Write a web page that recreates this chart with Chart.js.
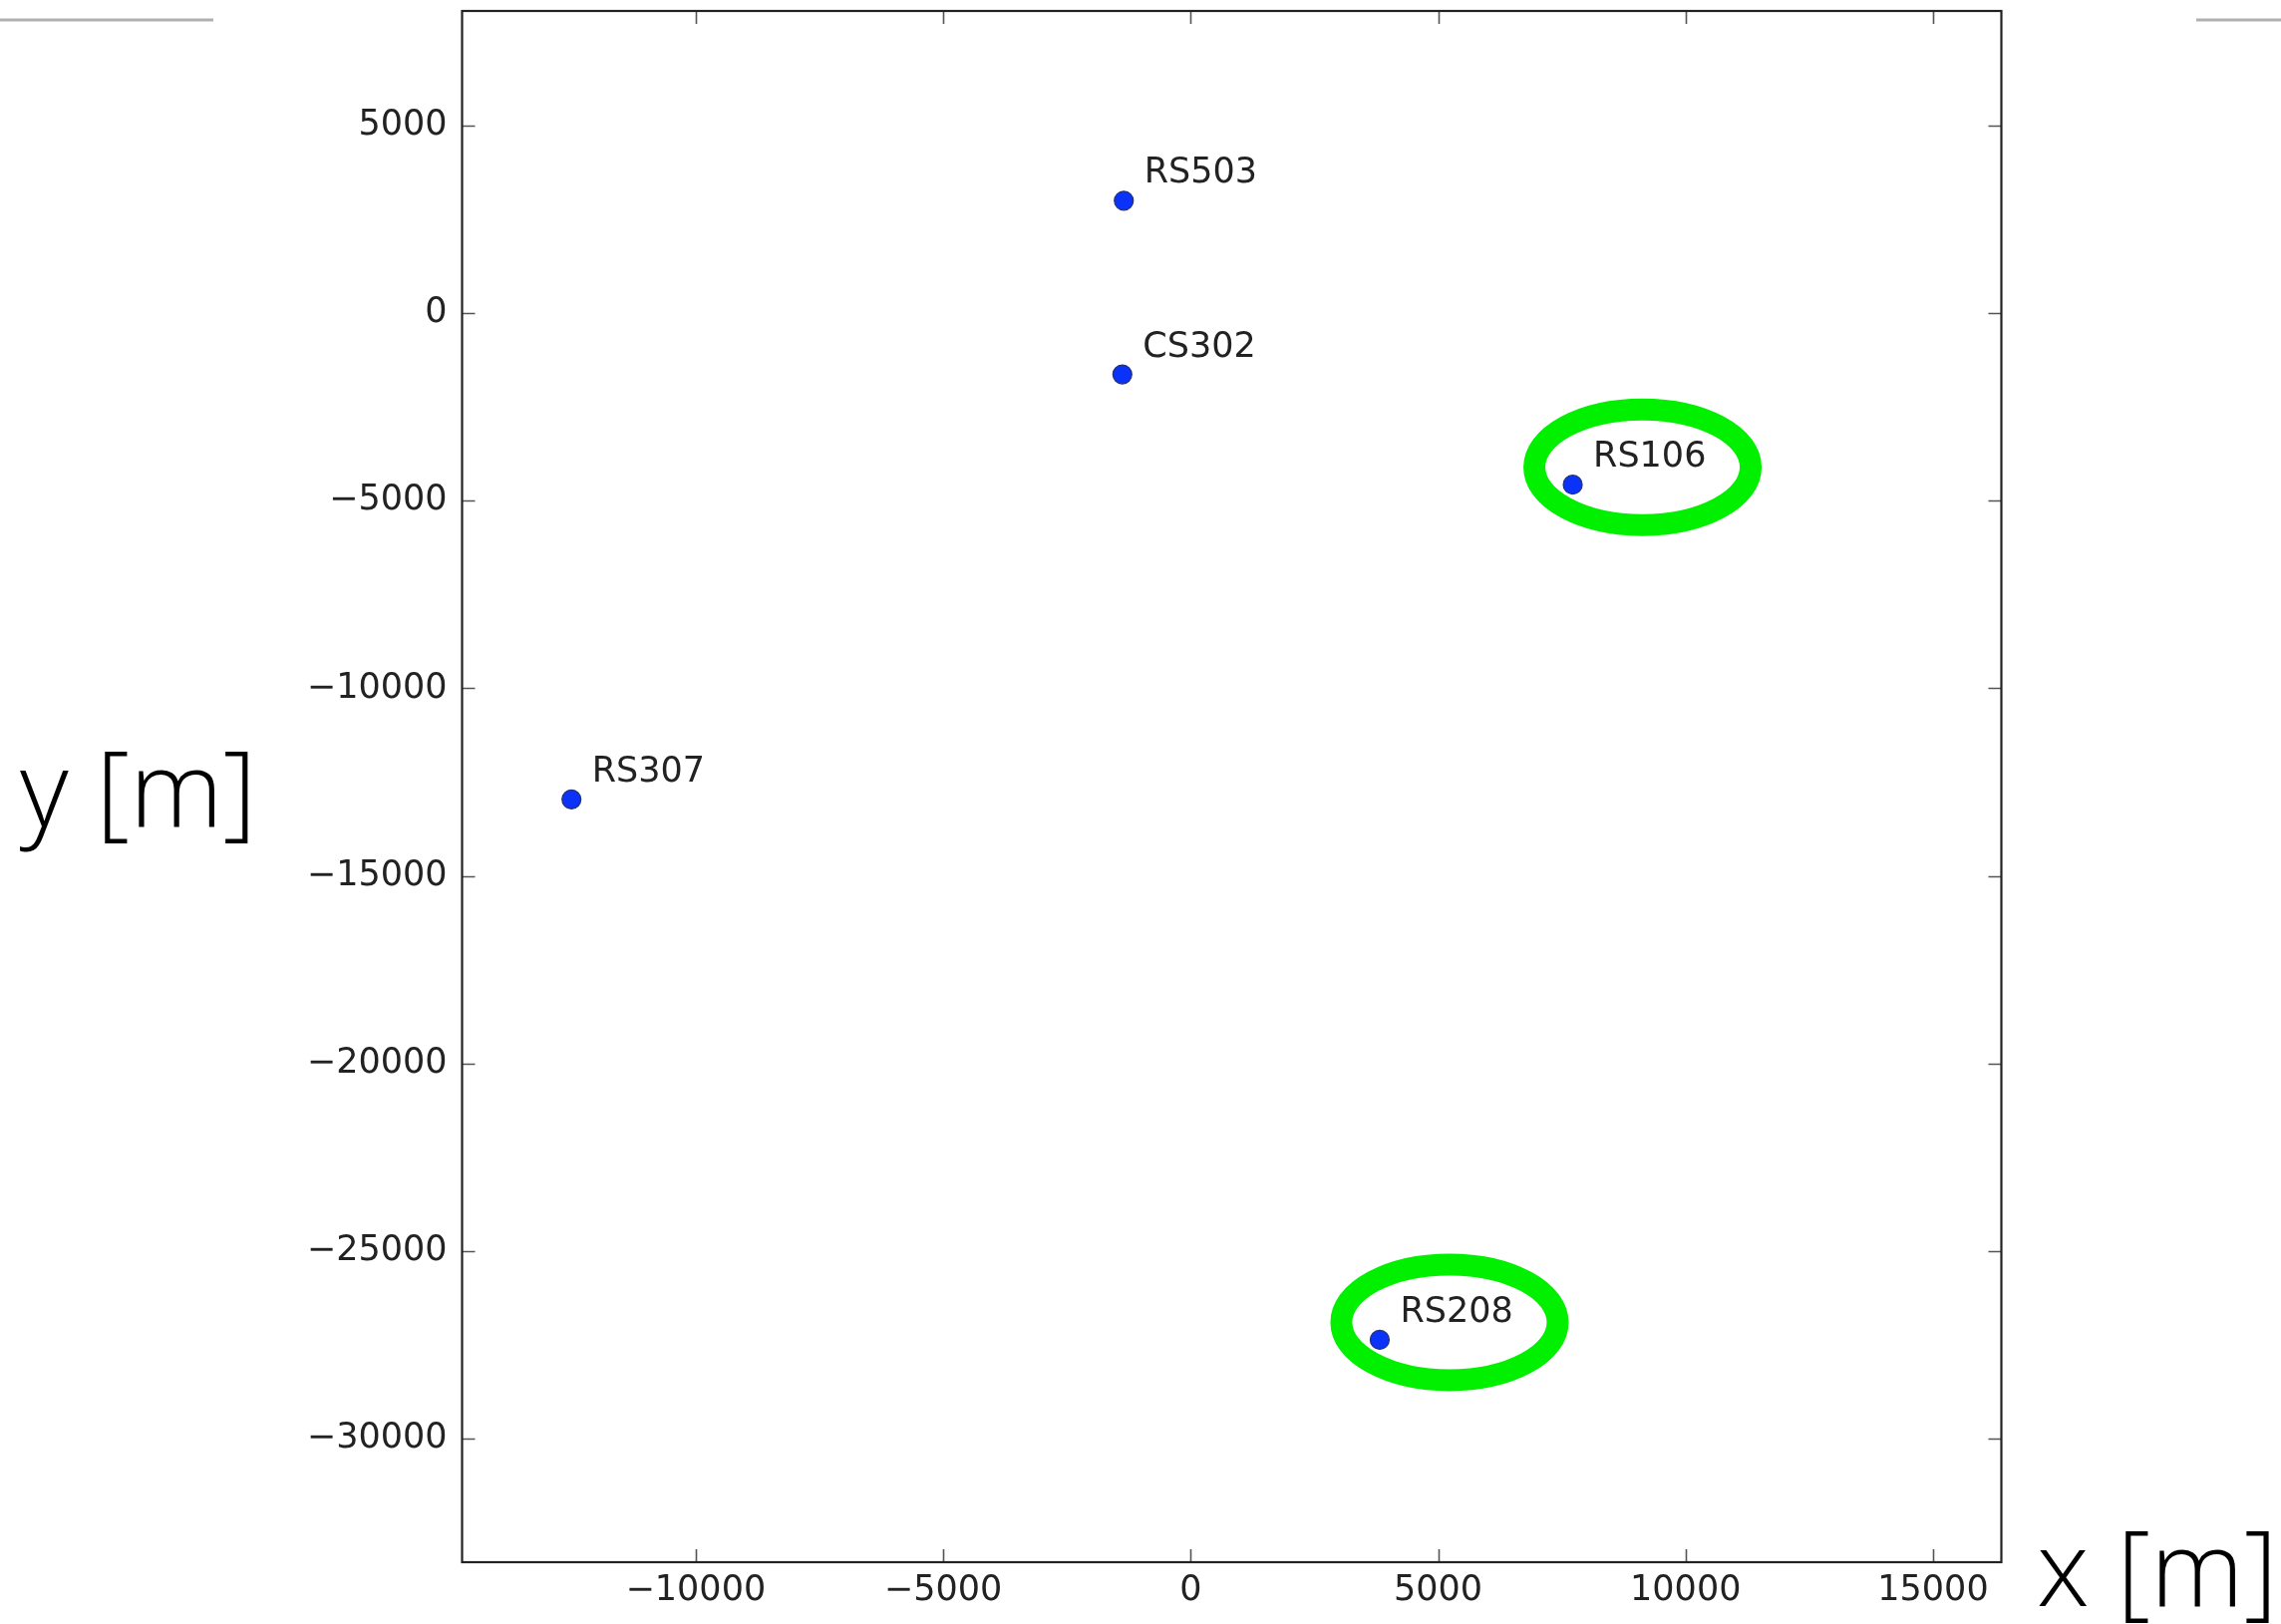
<!DOCTYPE html>
<html>
<head>
<meta charset="utf-8">
<title>Station positions</title>
<script src="https://cdn.jsdelivr.net/npm/chart.js@4.4.1/dist/chart.umd.min.js"></script>
<style>
  html, body { margin: 0; padding: 0; background: #ffffff; }
  #wrap { position: relative; width: 2288px; height: 1629px; }
</style>
</head>
<body>
<div id="wrap"><canvas id="c" width="2288" height="1629"></canvas></div>
<script>
// Station positions (metres, local x / y frame)
const stationNames = ['RS503', 'CS302', 'RS106', 'RS307', 'RS208'];
const stationX = [-1350, -1380, 7720, -12510, 3820];
const stationY = [3000, -1630, -4570, -12960, -27370];

// Stations circled in green
const highlighted = ['RS106', 'RS208'];

// Axis ranges and tick labels
const xRange = [-14720, 16380];
const yRange = [-33300, 8060];
const xTickValues = [-10000, -5000, 0, 5000, 10000, 15000];
const yTickValues = [5000, 0, -5000, -10000, -15000, -20000, -25000, -30000];

const xTitle = 'x [m]';
const yTitle = 'y [m]';

const points = stationX.map((x, i) => ({ x: x, y: stationY[i], name: stationNames[i] }));

const fmt = v => (v < 0 ? '\u2212' + Math.abs(v) : String(v));
const tickFont = { family: '"DejaVu Sans", sans-serif', size: 35 };

// Frame, inward tick marks, decorative rules and the big axis titles
const framePlugin = {
  id: 'frame',
  beforeDraw(chart) {
    const ctx = chart.ctx;
    ctx.save();
    ctx.strokeStyle = '#b0b0b0';
    ctx.lineWidth = 3;
    ctx.beginPath();
    ctx.moveTo(0, 20); ctx.lineTo(214, 20);
    ctx.moveTo(2203, 20); ctx.lineTo(2288, 20);
    ctx.stroke();
    ctx.restore();
  },
  afterDraw(chart) {
    const { ctx, chartArea: a, scales } = chart;
    ctx.save();
    // tick marks pointing inwards on all four sides
    ctx.strokeStyle = '#555';
    ctx.lineWidth = 1.6;
    const len = 13;
    ctx.beginPath();
    scales.x.ticks.forEach(t => {
      const px = Math.round(scales.x.getPixelForValue(t.value)) + 0.5;
      ctx.moveTo(px, a.bottom); ctx.lineTo(px, a.bottom - len);
      ctx.moveTo(px, a.top); ctx.lineTo(px, a.top + len);
    });
    scales.y.ticks.forEach(t => {
      const py = Math.round(scales.y.getPixelForValue(t.value)) + 0.5;
      ctx.moveTo(a.left, py); ctx.lineTo(a.left + len, py);
      ctx.moveTo(a.right, py); ctx.lineTo(a.right - len, py);
    });
    ctx.stroke();
    // box around the plotting area
    ctx.strokeStyle = '#222';
    ctx.lineWidth = 2.2;
    ctx.strokeRect(a.left, a.top, a.right - a.left, a.bottom - a.top);

    // axis titles
    ctx.fillStyle = '#000';
    ctx.font = '300 106px "Open Sans", "Noto Sans", sans-serif';
    ctx.textBaseline = 'alphabetic';
    ctx.textAlign = 'left';
    ctx.fillText(yTitle, 20, 829);
    ctx.fillText(xTitle, 2043, 1611);
    ctx.restore();
  }
};

// Station name labels and highlight rings
const labelPlugin = {
  id: 'stationLabels',
  afterDatasetsDraw(chart) {
    const ctx = chart.ctx;
    const meta = chart.getDatasetMeta(0);
    ctx.save();
    ctx.font = '35px "DejaVu Sans", sans-serif';
    ctx.fillStyle = '#222';
    ctx.textBaseline = 'alphabetic';
    ctx.textAlign = 'left';
    meta.data.forEach((el, i) => {
      const name = points[i].name;
      ctx.fillText(name, el.x + 20.5, el.y - 18);
      if (highlighted.includes(name)) {
        ctx.strokeStyle = '#00f000';
        ctx.lineWidth = 22;
        ctx.beginPath();
        ctx.ellipse(el.x + 70, el.y - 17.5, 108.5, 58, 0, 0, Math.PI * 2);
        ctx.stroke();
      }
    });
    ctx.restore();
  }
};

new Chart(document.getElementById('c'), {
  type: 'scatter',
  data: {
    datasets: [{
      data: points,
      pointRadius: 9.5,
      pointHoverRadius: 9.5,
      backgroundColor: '#0a32f8',
      borderColor: '#22307a',
      borderWidth: 1.2
    }]
  },
  options: {
    responsive: false,
    devicePixelRatio: 1,
    animation: false,
    events: [],
    layout: { padding: { left: 0, top: 11, right: 280.5, bottom: 0 } },
    plugins: { legend: { display: false }, tooltip: { enabled: false } },
    scales: {
      x: {
        type: 'linear',
        position: 'bottom',
        min: xRange[0],
        max: xRange[1],
        afterBuildTicks: s => { s.ticks = xTickValues.map(v => ({ value: v })); },
        afterFit: s => { s.height = 62; s.paddingLeft = 0; s.paddingRight = 0; },
        grid: { display: false, drawTicks: false },
        border: { display: false },
        ticks: { font: tickFont, color: '#222', padding: 8, maxRotation: 0, autoSkip: false, callback: v => fmt(v) }
      },
      y: {
        type: 'linear',
        position: 'left',
        min: yRange[0],
        max: yRange[1],
        afterBuildTicks: s => { s.ticks = yTickValues.map(v => ({ value: v })); },
        afterFit: s => { s.width = 463.5; s.paddingTop = 0; s.paddingBottom = 0; },
        grid: { display: false, drawTicks: false },
        border: { display: false },
        ticks: { font: tickFont, color: '#222', padding: 15, autoSkip: false, callback: v => fmt(v) }
      }
    }
  },
  plugins: [framePlugin, labelPlugin]
});
</script>
</body>
</html>
